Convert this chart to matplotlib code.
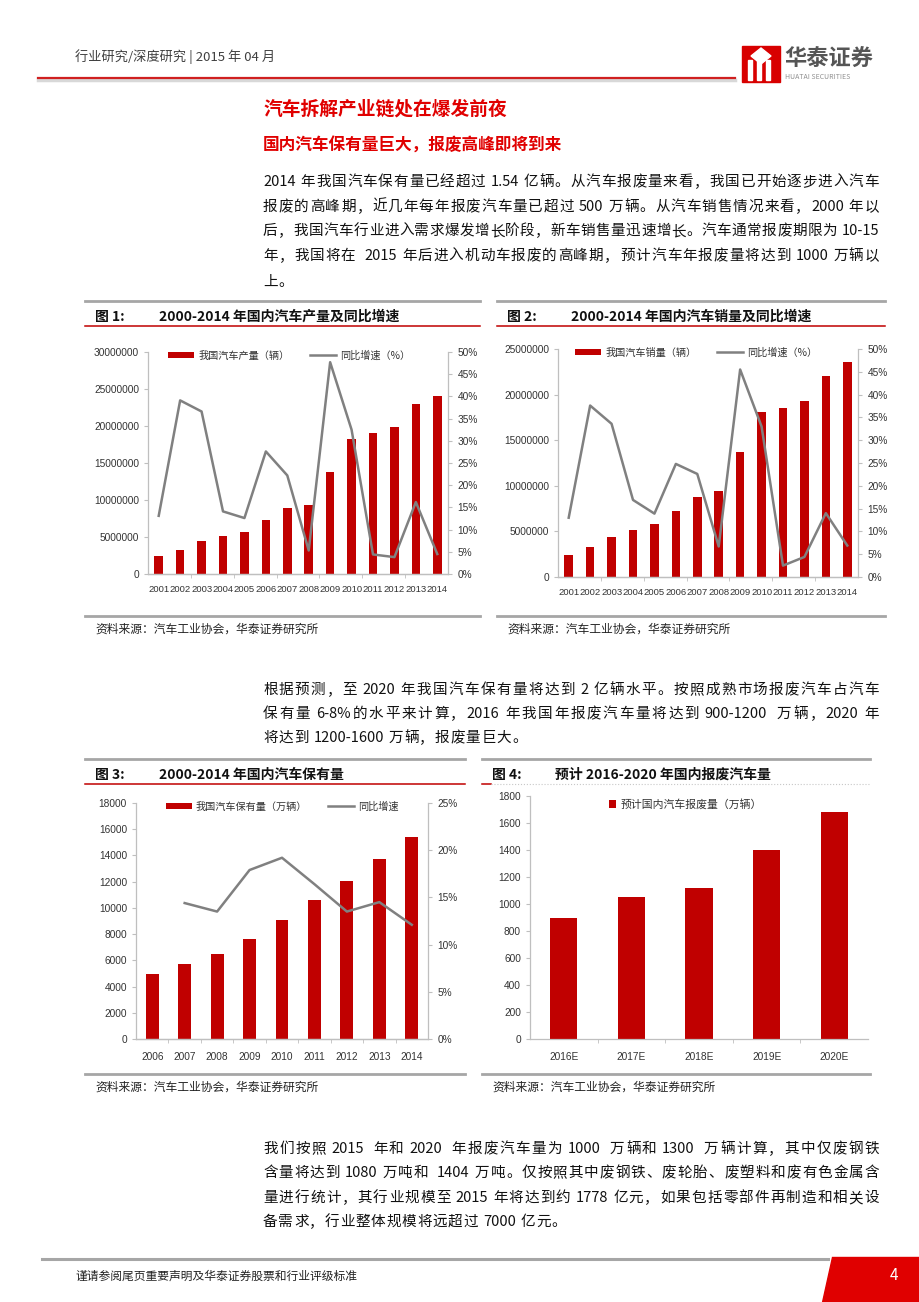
import re
import numpy as np
import matplotlib
matplotlib.use('Agg')
import matplotlib.pyplot as plt
from matplotlib import font_manager
from matplotlib.patches import Rectangle, Polygon
from matplotlib.lines import Line2D
from matplotlib.ticker import FuncFormatter, MultipleLocator

plt.rcParams['font.family'] = ['Noto Sans CJK SC', 'DejaVu Sans']

# ---- data ----
years = ['2001', '2002', '2003', '2004', '2005', '2006', '2007',
         '2008', '2009', '2010', '2011', '2012', '2013', '2014']
production = [2.39e6, 3.29e6, 4.51e6, 5.10e6, 5.73e6, 7.31e6, 8.89e6,
              9.34e6, 13.80e6, 18.27e6, 19.08e6, 19.80e6, 23.00e6, 24.10e6]
production_yoy = [13.1, 39.1, 36.6, 14.1, 12.6, 27.6, 22.2,
                  5.3, 47.7, 32.5, 4.4, 3.8, 16.2, 4.5]
sales = [2.41e6, 3.29e6, 4.35e6, 5.12e6, 5.77e6, 7.20e6, 8.81e6,
         9.43e6, 13.67e6, 18.13e6, 18.53e6, 19.33e6, 22.04e6, 23.54e6]
sales_yoy = [13.0, 37.6, 33.6, 16.9, 13.9, 24.8, 22.6,
             6.7, 45.5, 33.0, 2.5, 4.4, 14.0, 6.9]
stock_years = ['2006', '2007', '2008', '2009', '2010', '2011', '2012', '2013', '2014']
stock = [4985, 5703, 6467, 7638, 9089, 10591, 12017, 13748, 15428]
stock_yoy = [np.nan, 14.4, 13.5, 17.9, 19.2, 16.4, 13.5, 14.5, 12.1]
scrap_years = ['2016E', '2017E', '2018E', '2019E', '2020E']
scrap = [900, 1050, 1120, 1400, 1680]

W, H = 920, 1302
RED = '#C00000'
TXT_RED = '#E00000'
LINE_GREY = '#808080'
AXIS = '#BFBFBF'

# tick labels in the page use a condensed face; take one if it is there
installed = {f.name for f in font_manager.fontManager.ttflist}
if 'Liberation Sans Narrow' in installed:
    NARROW = ['Liberation Sans Narrow', 'Noto Sans CJK SC']
    TICK, TIGHT = 8, 7.5
else:
    NARROW = ['Liberation Sans', 'Noto Sans CJK SC']
    TICK, TIGHT = 7.3, 6.8

fig = plt.figure(figsize=(W / 100, H / 100), dpi=100)
fig.patch.set_facecolor('white')


def fx(x):
    return x / W


def fy(y):
    return 1 - y / H


def text(x, y, s, **kw):
    kw.setdefault('va', 'center')
    return fig.text(fx(x), fy(y), s, **kw)


def hline(x0, x1, y, color, lw, ls='-'):
    fig.add_artist(Line2D([fx(x0), fx(x1)], [fy(y), fy(y)], color=color, lw=lw, ls=ls))


renderer = fig.canvas.get_renderer()


def para_line(y, s, justify=True, x0=263, x1=879, size=10.5):
    # justified line: CJK chars and ascii runs are spread over the full width
    pieces = []
    pending = 0
    for m in re.finditer(r'\s+|[0-9A-Za-z.\-%]+|.', s):
        tk = m.group()
        if tk.isspace():
            pending += 4 * len(tk)
            continue
        a = fig.text(0, fy(y), tk, fontsize=size, va='center', color='#111111')
        pieces.append((a, a.get_window_extent(renderer).width, pending))
        pending = 0
    total = sum(w + p for _, w, p in pieces)
    gap = (x1 - x0 - total) / (len(pieces) - 1) if justify else 0.8
    x = x0
    for a, w, p in pieces:
        x += p
        a.set_x(fx(x))
        x += w + gap


# ---- page header ----
text(75, 57, '行业研究/深度研究 | 2015 年 04 月', fontsize=9.5, color='#404040')
hline(38, 735, 80, '#D8D8D8', 2.5)
hline(38, 735, 78, '#D02020', 1.6)
fig.add_artist(Rectangle((fx(742), fy(82)), 38 / W, 36 / H, color='#D80000',
                         transform=fig.transFigure))
for xx in [748, 757, 766]:
    fig.add_artist(Rectangle((fx(xx), fy(80)), 4 / W, 20 / H, color='white',
                             transform=fig.transFigure))
fig.add_artist(Polygon([(fx(761), fy(48)), (fx(771), fy(56)), (fx(761), fy(64)), (fx(751), fy(56))],
                       closed=True, color='white', transform=fig.transFigure))
text(784, 59, '华泰证券', fontsize=16, weight='bold', color='#555555')
text(785, 77, 'HUATAI SECURITIES', fontsize=5, color='#909090')

# ---- headings and paragraphs ----
text(263, 109, '汽车拆解产业链处在爆发前夜', fontsize=13.5, weight='bold', color=TXT_RED)
text(263, 146, '国内汽车保有量巨大，报废高峰即将到来', fontsize=12, weight='bold', color=TXT_RED)
para_line(182, '2014 年我国汽车保有量已经超过 1.54 亿辆。从汽车报废量来看，我国已开始逐步进入汽车')
para_line(207, '报废的高峰期，近几年每年报废汽车量已超过 500 万辆。从汽车销售情况来看，2000 年以')
para_line(231, '后，我国汽车行业进入需求爆发增长阶段，新车销售量迅速增长。汽车通常报废期限为 10-15')
para_line(256, '年，我国将在  2015 年后进入机动车报废的高峰期，预计汽车年报废量将达到 1000 万辆以')
para_line(282, '上。', justify=False)

para_line(690, '根据预测，至 2020 年我国汽车保有量将达到 2 亿辆水平。按照成熟市场报废汽车占汽车')
para_line(714, '保有量 6-8%的水平来计算，2016 年我国年报废汽车量将达到 900-1200  万辆，2020 年')
para_line(738, '将达到 1200-1600 万辆，报废量巨大。', justify=False)

para_line(1149, '我们按照 2015  年和 2020  年报废汽车量为 1000  万辆和 1300  万辆计算，其中仅废钢铁')
para_line(1173, '含量将达到 1080 万吨和  1404 万吨。仅按照其中废钢铁、废轮胎、废塑料和废有色金属含')
para_line(1198, '量进行统计，其行业规模至 2015 年将达到约 1778 亿元，如果包括零部件再制造和相关设')
para_line(1222, '备需求，行业整体规模将远超过 7000 亿元。', justify=False)


# ---- figure frames ----
def frame(x0, x1, y_top, y_bottom, num, title, title_x, red_full=True):
    hline(x0, x1, y_top, '#A6A6A6', 2)
    text(x0 + 10, y_top + 16, f'图 {num}:', fontsize=10, weight='bold', color='#111111')
    text(title_x, y_top + 16, title, fontsize=10, weight='bold', color='#111111')
    if red_full:
        hline(x0, x1, y_top + 25, RED, 1.1)
    else:
        hline(x0, x0 + 9, y_top + 25, RED, 1.1)
        hline(x0 + 9, x1, y_top + 25, '#C8C8C8', 0.8, ':')
    hline(x0, x1, y_bottom, '#A6A6A6', 2)
    text(x0 + 10, y_bottom + 13, '资料来源：汽车工业协会，华泰证券研究所',
         fontsize=8.5, style='italic', color='#222222')


frame(85, 480, 301, 616, 1, '2000-2014 年国内汽车产量及同比增速', 159)
frame(497, 885, 301, 616, 2, '2000-2014 年国内汽车销量及同比增速', 571)
frame(85, 465, 759, 1074, 3, '2000-2014 年国内汽车保有量', 159)
frame(482, 870, 759, 1074, 4, '预计 2016-2020 年国内报废汽车量', 555, red_full=False)


def style_axis(ax):
    ax.spines['top'].set_visible(False)
    for s in ['left', 'right', 'bottom']:
        ax.spines[s].set_color(AXIS)
        ax.spines[s].set_linewidth(0.9)
    ax.tick_params(axis='y', length=3, width=0.8, color=AXIS, labelsize=TICK,
                   labelcolor='#333333', pad=3.5, direction='out')
    for lab in ax.get_yticklabels():
        lab.set_family(NARROW)


def combo_chart(box, cats, bars, line, bar_label, line_label, ymax, ystep,
                rmax, rstep, minor_every, xpad, xsize, legend_x):
    l, t, r, b = box
    ax = fig.add_axes([fx(l), fy(b), (r - l) / W, (b - t) / H])
    x = np.arange(len(cats))
    ax.bar(x, bars, width=0.4, color=RED, label=bar_label, zorder=2)
    ax.set_xlim(-0.5, len(cats) - 0.5)
    ax.set_ylim(0, ymax)
    ax.yaxis.set_major_locator(MultipleLocator(ystep))
    ax.yaxis.set_major_formatter(FuncFormatter(lambda v, p: f'{v:.0f}'))
    ax.set_xticks(x)
    ax.set_xticklabels(cats, family=NARROW, fontsize=xsize, color='#333333')
    ax.set_xticks(np.arange(-0.5 + minor_every, len(cats) - 0.5, minor_every), minor=True)
    ax.tick_params(axis='x', which='major', length=0, pad=xpad)
    ax.tick_params(axis='x', which='minor', length=3, color=AXIS)
    style_axis(ax)
    ax.spines['right'].set_visible(False)

    ax2 = ax.twinx()
    ax2.plot(x, line, color=LINE_GREY, lw=1.8, label=line_label, zorder=3)
    ax2.set_ylim(0, rmax)
    ax2.yaxis.set_major_locator(MultipleLocator(rstep))
    ax2.yaxis.set_major_formatter(FuncFormatter(lambda v, p: f'{v:.0f}%'))
    style_axis(ax2)
    ax2.spines['left'].set_visible(False)
    ax2.tick_params(axis='y', pad=4)

    h1, l1 = ax.get_legend_handles_labels()
    h2, l2 = ax2.get_legend_handles_labels()
    leg = ax2.legend(h1 + h2, l1 + l2, loc='center', bbox_to_anchor=(legend_x, 0.985), ncol=2,
                     frameon=False, fontsize=7.3, handlelength=2.6, handleheight=0.55,
                     columnspacing=2.0, handletextpad=0.4)
    for tx in leg.get_texts():
        tx.set_color('#333333')
    return ax


combo_chart((148, 352, 448, 574), years, production, production_yoy,
            '我国汽车产量（辆）', '同比增速（%）', 30e6, 5e6, 50, 5, 2, 8, TIGHT, 0.47)
combo_chart((558, 349, 858, 577), years, sales, sales_yoy,
            '我国汽车销量（辆）', '同比增速（%）', 25e6, 5e6, 50, 5, 2, 8, TIGHT, 0.46)
combo_chart((136, 803, 428, 1039), stock_years, stock, stock_yoy,
            '我国汽车保有量（万辆）', '同比增速', 18000, 2000, 25, 5, 1, 9, TICK, 0.5)

# figure 4: plain bars
l, t, r, b = 530, 796, 868, 1039
ax4 = fig.add_axes([fx(l), fy(b), (r - l) / W, (b - t) / H])
x4 = np.arange(len(scrap_years))
ax4.bar(x4, scrap, width=0.4, color=RED, label='预计国内汽车报废量（万辆）')
ax4.set_xlim(-0.5, len(scrap_years) - 0.5)
ax4.set_ylim(0, 1800)
ax4.yaxis.set_major_locator(MultipleLocator(200))
ax4.set_xticks(x4)
ax4.set_xticklabels(scrap_years, family=NARROW, fontsize=TICK, color='#333333')
ax4.set_xticks(np.arange(0.5, len(scrap_years) - 0.5, 1), minor=True)
ax4.tick_params(axis='x', which='major', length=0, pad=9)
ax4.tick_params(axis='x', which='minor', length=3, color=AXIS)
style_axis(ax4)
ax4.spines['right'].set_visible(False)
leg4 = ax4.legend(loc='center', bbox_to_anchor=(0.46, 0.965), frameon=False, fontsize=7.8,
                  handlelength=0.7, handleheight=0.7, handletextpad=0.4)
for tx in leg4.get_texts():
    tx.set_color('#333333')

# ---- footer ----
hline(42, 828, 1259, '#A6A6A6', 2.2)
fig.add_artist(Polygon([(fx(832), fy(1257)), (fx(920), fy(1257)), (fx(920), fy(1302)),
                        (fx(822), fy(1302))], closed=True, color='#E00000',
                       transform=fig.transFigure))
text(894, 1276, '4', fontsize=11, color='white', ha='center')
text(75, 1276, '谨请参阅尾页重要声明及华泰证券股票和行业评级标准', fontsize=8.5, color='#222222')

fig.savefig('out.png', dpi=100)
